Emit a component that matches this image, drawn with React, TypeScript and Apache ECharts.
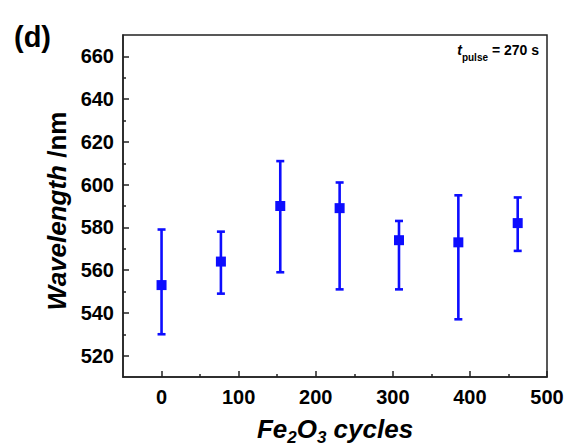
import React, { useEffect, useRef } from "react";
import * as echarts from "echarts";

const cycles = [0, 77, 154, 231, 308, 385, 462];
const wavelength = [553, 564, 590, 589, 574, 573, 582];
const errLow = [530, 549, 559, 551, 551, 537, 569];
const errHigh = [579, 578, 611, 601, 583, 595, 594];

const yMajor = [520, 540, 560, 580, 600, 620, 640, 660];
const yMinor = [530, 550, 570, 590, 610, 630, 650];
const xMajor = [0, 100, 200, 300, 400, 500];
const xMinor = [50, 150, 250, 350, 450];

const BLUE = "#0d0dff";
const FONT = "Liberation Sans, Arial, sans-serif";

export default function App() {
  const ref = useRef<HTMLDivElement>(null);
  useEffect(() => {
    if (!ref.current) return;
    const chart = echarts.init(ref.current, null, { renderer: "svg" });
    const gridPos = { left: 123, top: 35, right: 22, bottom: 71, outerBoundsMode: "none", containLabel: false };
    const axisLineStyle = { color: "#222", width: 1.5 };
    chart.setOption({
      animation: false,
      backgroundColor: "#fff",
      grid: [
        { ...gridPos, show: true, borderColor: "#222", borderWidth: 1.5, backgroundColor: "transparent" },
        { ...gridPos, show: false },
      ],
      xAxis: [
        {
          type: "value",
          gridIndex: 0,
          min: -50,
          max: 500,
          axisLine: { onZero: false, lineStyle: axisLineStyle },
          splitLine: { show: false },
          axisTick: { inside: true, length: 6, customValues: xMajor, lineStyle: axisLineStyle },
          axisLabel: {
            customValues: xMajor,
            color: "#000",
            fontSize: 20,
            fontWeight: "bold",
            fontFamily: FONT,
            margin: 10,
          },
          name: "{i|Fe}{s|2}{i|O}{s|3}{i| cycles}",
          nameLocation: "middle",
          nameGap: 39,
          nameTextStyle: {
            rich: {
              i: { fontSize: 26, fontWeight: "bold", fontStyle: "italic", fontFamily: FONT, color: "#000" },
              s: { fontSize: 17, fontWeight: "bold", fontStyle: "italic", fontFamily: FONT, color: "#000", verticalAlign: "bottom", padding: [0, 0, -4, 0] },
            },
          },
        },
        {
          type: "value",
          gridIndex: 1,
          min: -50,
          max: 500,
          axisLine: { show: false, onZero: false },
          splitLine: { show: false },
          axisTick: { inside: true, length: 3, customValues: xMinor, lineStyle: axisLineStyle },
          axisLabel: { show: false },
        },
      ],
      yAxis: [
        {
          type: "value",
          gridIndex: 0,
          min: 510,
          max: 670,
          axisLine: { onZero: false, lineStyle: axisLineStyle },
          splitLine: { show: false },
          axisTick: { inside: true, length: 6, customValues: yMajor, lineStyle: axisLineStyle },
          axisLabel: {
            customValues: yMajor,
            color: "#000",
            fontSize: 20,
            fontWeight: "bold",
            fontFamily: FONT,
            margin: 9,
          },
          name: "{i|Wavelength}{n| /nm}",
          nameLocation: "middle",
          nameGap: 51,
          nameTextStyle: {
            padding: [0, 10, 0, 0],
            rich: {
              i: { fontSize: 26, fontWeight: "bold", fontStyle: "italic", fontFamily: FONT, color: "#000" },
              n: { fontSize: 26, fontWeight: "bold", fontFamily: FONT, color: "#000" },
            },
          },
        },
        {
          type: "value",
          gridIndex: 1,
          min: 510,
          max: 670,
          axisLine: { show: false, onZero: false },
          splitLine: { show: false },
          axisTick: { inside: true, length: 3, customValues: yMinor, lineStyle: axisLineStyle },
          axisLabel: { show: false },
        },
      ],
      graphic: [
        {
          type: "text",
          left: 14,
          top: 22,
          style: { text: "(d)", font: `bold 29px ${FONT}`, fill: "#000" },
        },
        {
          type: "text",
          right: 30,
          top: 43,
          style: {
            text: "{t|t}{p|pulse}{r| = 270 s}",
            rich: {
              t: { font: `italic bold 14px ${FONT}`, fill: "#000" },
              p: { font: `bold 10px ${FONT}`, fill: "#000", verticalAlign: "bottom", padding: [0, 0, -5, 0] },
              r: { font: `bold 14px ${FONT}`, fill: "#000" },
            },
          },
        },
      ],
      series: [
        {
          type: "custom",
          xAxisIndex: 0,
          yAxisIndex: 0,
          data: cycles.map((c, i) => [c, errLow[i], errHigh[i]]),
          renderItem: (params: any, api: any) => {
            const x = api.value(0);
            const lo = api.coord([x, api.value(1)]);
            const hi = api.coord([x, api.value(2)]);
            const hw = 4;
            const style = { stroke: BLUE, lineWidth: 2.6 };
            return {
              type: "group",
              children: [
                { type: "line", shape: { x1: lo[0], y1: lo[1], x2: hi[0], y2: hi[1] }, style },
                { type: "line", shape: { x1: lo[0] - hw, y1: lo[1], x2: lo[0] + hw, y2: lo[1] }, style },
                { type: "line", shape: { x1: hi[0] - hw, y1: hi[1], x2: hi[0] + hw, y2: hi[1] }, style },
              ],
            };
          },
          z: 2,
        },
        {
          type: "scatter",
          xAxisIndex: 0,
          yAxisIndex: 0,
          data: cycles.map((c, i) => [c, wavelength[i]]),
          symbol: "rect",
          symbolSize: 10,
          itemStyle: { color: BLUE, opacity: 1 },
          z: 3,
        },
      ],
    });
    return () => chart.dispose();
  }, []);
  return <div ref={ref} style={{ width: 569, height: 448, position: "absolute", left: 0, top: 0, background: "#fff" }} />;
}
